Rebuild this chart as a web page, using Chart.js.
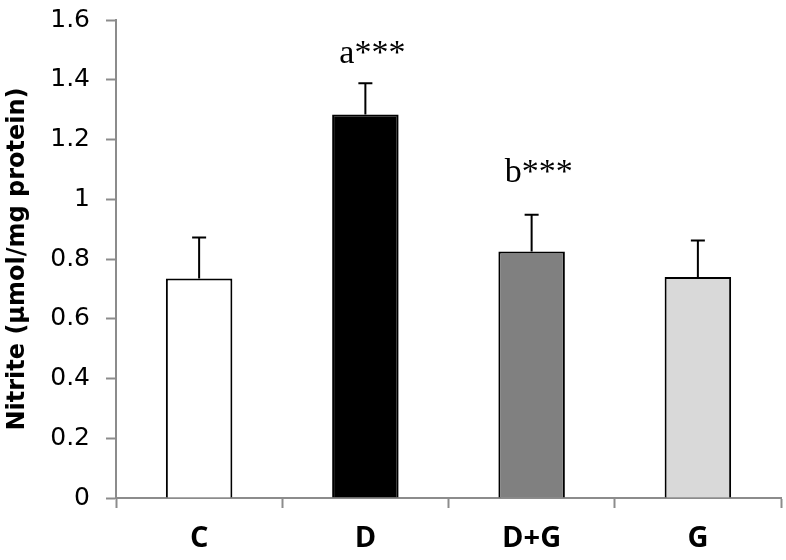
<!DOCTYPE html>
<html>
<head>
	<meta charset="UTF-8">
	<script src="https://cdn.jsdelivr.net/npm/chart.js@4.4.0/dist/chart.umd.min.js"></script>
	<style>
		html, body { margin: 0; padding: 0; background: #ffffff; }
		#wrap { width: 786px; height: 560px; }
	</style>
</head>
<body>
	<div id="wrap">
		<canvas id="nitriteChart" width="786" height="560"></canvas>
	</div>
	<script>
		// 데이터
		var groups = ['C', 'D', 'D+G', 'G'];
		var nitrite = [0.735, 1.284, 0.825, 0.740];
		var nitriteSE = [0.137, 0.104, 0.123, 0.122];
		var marks = ['', 'a***', 'b***', ''];
		var markLevel = [null, 1.456, 1.057, null]; // baseline of the mark text, in axis units

		var barColors = ['#ffffff', '#000000', '#808080', '#d9d9d9'];
		var axisGray = '#8c8c8c';

		// error bars (upper half only) + significance marks
		var errorBarPlugin = {
			id: 'errorBars',
			afterDatasetsDraw: function (chart) {
				var ctx = chart.ctx;
				var y = chart.scales.y;
				var meta = chart.getDatasetMeta(0);
				ctx.save();
				ctx.strokeStyle = '#000000';
				ctx.lineWidth = 2;
				meta.data.forEach(function (bar, i) {
					var top = y.getPixelForValue(nitrite[i]);
					var hi = y.getPixelForValue(nitrite[i] + nitriteSE[i]);
					ctx.beginPath();
					ctx.moveTo(bar.x, top);
					ctx.lineTo(bar.x, hi);
					ctx.moveTo(bar.x - 7, hi);
					ctx.lineTo(bar.x + 7, hi);
					ctx.stroke();
				});
				ctx.fillStyle = '#000000';
				ctx.font = '34px "Liberation Serif"';
				ctx.textAlign = 'center';
				ctx.textBaseline = 'alphabetic';
				meta.data.forEach(function (bar, i) {
					if (!marks[i]) return;
					ctx.fillText(marks[i], bar.x + 7, y.getPixelForValue(markLevel[i]));
				});
				ctx.restore();
			}
		};

		var ctx = document.getElementById('nitriteChart').getContext('2d');
		var myChart = new Chart(ctx, {
			type: 'bar',
			data: {
				labels: groups,
				datasets: [{
					data: nitrite,
					backgroundColor: barColors,
					borderColor: '#000000',
					borderWidth: 2,
					borderSkipped: 'bottom',
					barPercentage: 0.4,
					categoryPercentage: 1.0
				}]
			},
			options: {
				responsive: false,
				animation: false,
				devicePixelRatio: 1,
				layout: {
					padding: { left: 0, right: 5, top: 20, bottom: 0 }
				},
				plugins: {
					legend: { display: false },
					tooltip: { enabled: false }
				},
				scales: {
					x: {
						afterFit: function (scale) {
							scale.height = 62;
							scale.paddingLeft = 0;
							scale.paddingRight = 0;
						},
						grid: {
							offset: true,
							drawOnChartArea: false,
							drawTicks: true,
							tickLength: 10,
							tickWidth: 2,
							color: axisGray
						},
						border: { color: axisGray, width: 2 },
						ticks: {
							color: '#000000',
							padding: 13,
							font: { family: '"Open Sans"', size: 29, weight: 'bold' }
						}
					},
					y: {
						min: 0,
						max: 1.6,
						afterFit: function (scale) {
							scale.width = 116;
							scale.paddingTop = 0;
							scale.paddingBottom = 0;
						},
						grid: {
							drawOnChartArea: false,
							drawTicks: true,
							tickLength: 10,
							tickWidth: 2,
							color: axisGray
						},
						border: { color: axisGray, width: 2 },
						ticks: {
							stepSize: 0.2,
							color: '#000000',
							padding: 16,
							font: { family: '"DejaVu Sans"', size: 25 },
							callback: function (v) { return String(+v.toFixed(1)); }
						},
						title: {
							display: true,
							text: 'Nitrite (µmol/mg protein)',
							color: '#000000',
							padding: { top: 3, bottom: 0 },
							font: { family: '"DejaVu Sans"', size: 24, weight: 'bold' }
						}
					}
				}
			},
			plugins: [errorBarPlugin]
		});
	</script>
</body>
</html>
